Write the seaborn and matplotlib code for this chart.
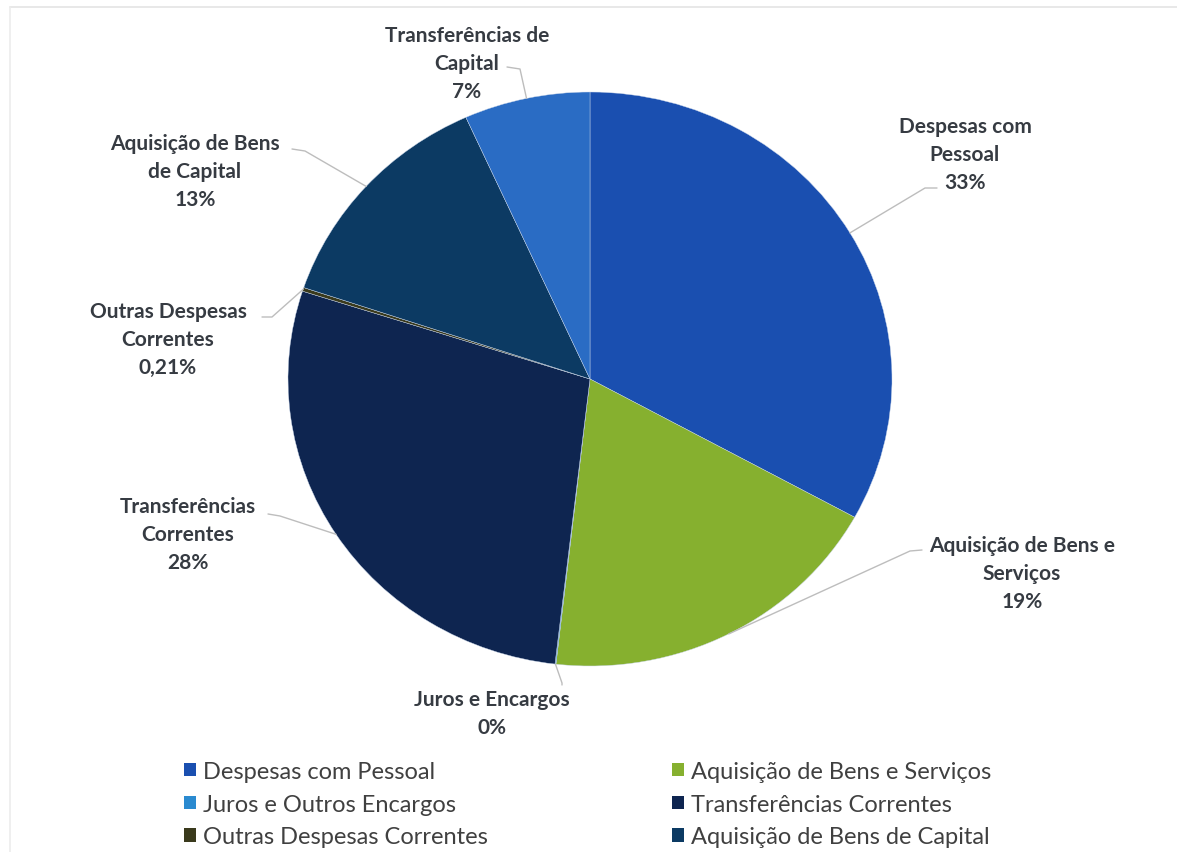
import numpy as np
import matplotlib.pyplot as plt
import seaborn as sns
from matplotlib.patches import Patch
from matplotlib.lines import Line2D

# dados do grafico (percentuais)
categorias = ['Despesas com Pessoal', 'Aquisição de Bens e Serviços', 'Juros e Encargos',
              'Transferências Correntes', 'Outras Despesas Correntes',
              'Aquisição de Bens de Capital', 'Transferências de Capital']
valores = [33.0, 18.8, 0.05, 28.1, 0.21, 13.1, 6.74]
rotulos = ['Despesas com\nPessoal\n33%', 'Aquisição de Bens e\nServiços\n19%',
           'Juros e Encargos\n0%', 'Transferências\nCorrentes\n28%',
           'Outras Despesas\nCorrentes\n0,21%', 'Aquisição de Bens\nde Capital\n13%',
           'Transferências de\nCapital\n7%']
legenda = ['Despesas com Pessoal', 'Aquisição de Bens e Serviços', 'Juros e Outros Encargos',
           'Transferências Correntes', 'Outras Despesas Correntes', 'Aquisição de Bens de Capital']
cores = ['#1a4fb0', '#86b02f', '#2a8ad0', '#0e2550', '#3a3a1c', '#0c3a63', '#2a6cc4']

sns.set_theme(style='white')
plt.rcParams['font.family'] = ['Lato', 'DejaVu Sans']

W, H = 1177, 853
CX, CY, RX, RY = 590, 380, 302, 287


def px(x, y):
    # pixel da imagem -> coordenadas do eixo
    return (x - CX) / RX, (CY - y) / RY


# posicoes dos rotulos (pixels): centro do texto, cotovelo e fim da linha guia
pos_texto = [(965, 155), (1022, 574), (492, 714), (188, 535), (168, 340), (195, 172), (467, 64)]
cotovelo = [(925, 189), (910, 552), (562, 684), (280, 517), (272, 318), (305, 152), (520, 70)]
fim_linha = [(937, 189), (922, 551), (562, 686), (268, 515), (262, 318), (292, 150), (507, 68)]

fig = plt.figure(figsize=(W / 100, H / 100), dpi=100)
ax = fig.add_axes([0, 0, 1, 1])

paleta = sns.color_palette(cores)
wedges, _ = ax.pie(valores, colors=paleta, startangle=90, counterclock=False,
                   wedgeprops=dict(edgecolor='#c9d6ea', linewidth=0.3))
ax.set_aspect('auto')
ax.set_xlim(-CX / RX, (W - CX) / RX)
ax.set_ylim(-(H - CY) / RY, CY / RY)
ax.axis('off')

for w, txt, pt, cv, fl in zip(wedges, rotulos, pos_texto, cotovelo, fim_linha):
    ang = np.deg2rad((w.theta1 + w.theta2) / 2)
    x0, y0 = np.cos(ang), np.sin(ang)
    x1, y1 = px(*cv)
    x2, y2 = px(*fl)
    ax.plot([x0, x1, x2], [y0, y1, y2], color='#bdbdbd', lw=1.0, zorder=1)
    tx, ty = px(*pt)
    ax.text(tx, ty, txt, ha='center', va='center', multialignment='center',
            fontsize=15, fontweight='bold', color='#363b42', linespacing=1.5)

# legenda em duas colunas (ordem por linhas como no original)
ordem = [0, 2, 4, 1, 3, 5]
handles = [Patch(facecolor=cores[i], edgecolor='none') for i in ordem]
labels = [legenda[i] for i in ordem]
fig.legend(handles, labels, ncol=2, loc='upper left', bbox_to_anchor=(172 / W, 1 - 750 / H),
           frameon=False, fontsize=17, labelcolor='#404040', handlelength=0.5,
           handleheight=0.5, handletextpad=0.3, columnspacing=7.8, labelspacing=0.5,
           borderpad=0)

# borda clara do quadro do grafico
fig.add_artist(Line2D([10 / W, 1], [1 - 8 / H, 1 - 8 / H], color='#e4e4e4', lw=1.2))
fig.add_artist(Line2D([10 / W, 10 / W], [0, 1 - 8 / H], color='#ececec', lw=1.2))

fig.savefig('out.png', dpi=100)
